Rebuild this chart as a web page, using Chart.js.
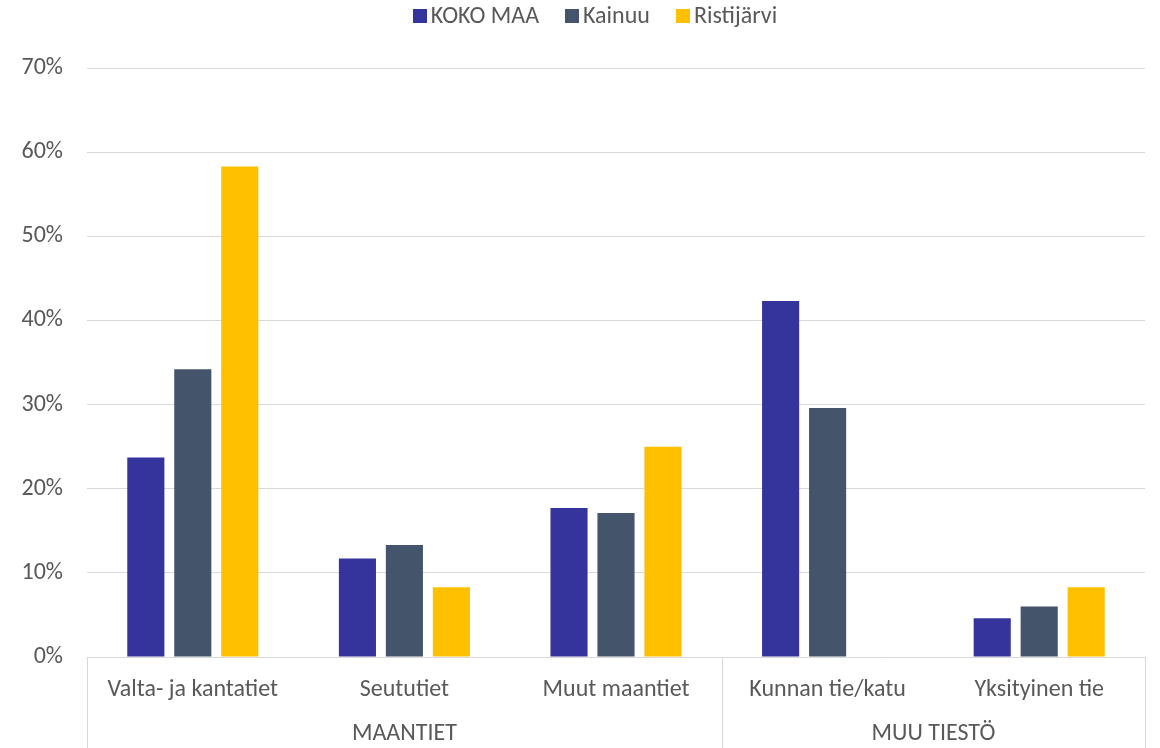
<!DOCTYPE html>
<html>
<head>
<meta charset="utf-8">
<script src="https://cdn.jsdelivr.net/npm/chart.js@4"></script>
<style>
html,body{margin:0;padding:0;background:#fff;}
#wrap{width:1160px;height:748px;position:relative;}
</style>
</head>
<body>
<div id="wrap"><canvas id="c" width="1160" height="748"></canvas></div>
<script>
const categories = ["Valta- ja kantatiet", "Seututiet", "Muut maantiet", "Kunnan tie/katu", "Yksityinen tie"];
const groupNames = ["MAANTIET", "MUU TIESTÖ"];
const groupSizes = [3, 2];
const seriesNames = ["KOKO MAA", "Kainuu", "Ristijärvi"];
const kokoMaa = [23.7, 11.7, 17.7, 42.3, 4.6];
const kainuu = [34.2, 13.3, 17.1, 29.6, 6.0];
const ristijarvi = [58.3, 8.3, 25.0, 0, 8.3];
const yTicks = [0, 10, 20, 30, 40, 50, 60, 70];
const seriesColors = ['#34349c', '#44546a', '#ffc000'];

const TXT = '#595959';
const FONT = 'Carlito, Lato, sans-serif';
const FS = 24;
const LINE = '#d9d9d9';

// custom legend drawn from dataset labels/colours
const legendPlugin = {
  id: 'customLegend',
  afterDraw(chart) {
    const ctx = chart.ctx;
    ctx.save();
    ctx.font = FS + 'px ' + FONT;
    ctx.textBaseline = 'middle';
    ctx.textAlign = 'left';
    const box = 14, gapText = 4, gapItem = 26;
    const ds = chart.data.datasets;
    const widths = ds.map(d => ctx.measureText(d.label).width);
    const total = widths.reduce((a, w) => a + box + gapText + w, 0) + gapItem * (ds.length - 1);
    const center = chart.width / 2 + 15;
    let x = center - total / 2;
    const cy = 16;
    ds.forEach((d, i) => {
      ctx.fillStyle = d.backgroundColor;
      ctx.fillRect(Math.round(x), cy - box / 2, box, box);
      ctx.fillStyle = TXT;
      ctx.fillText(d.label, x + box + gapText, cy + 1);
      x += box + gapText + widths[i] + gapItem;
    });
    ctx.restore();
  }
};

const groupPlugin = {
  id: 'groups',
  afterDraw(chart) {
    const ctx = chart.ctx;
    const x = chart.scales.x;
    const area = chart.chartArea;
    const bottom = chart.height;
    const half = (x.getPixelForValue(1) - x.getPixelForValue(0)) / 2;
    ctx.save();
    ctx.strokeStyle = LINE;
    ctx.lineWidth = 1;
    let idx = 0;
    const bounds = [x.getPixelForValue(0) - half];
    groupSizes.forEach(n => { idx += n; bounds.push(x.getPixelForValue(idx - 1) + half); });
    bounds.forEach(b => {
      const px = Math.round(b) + 0.5;
      ctx.beginPath(); ctx.moveTo(px, area.bottom); ctx.lineTo(px, bottom); ctx.stroke();
    });
    ctx.fillStyle = TXT;
    ctx.font = FS + 'px ' + FONT;
    ctx.textAlign = 'center';
    ctx.textBaseline = 'middle';
    idx = 0;
    groupNames.forEach((g, i) => {
      const c = (x.getPixelForValue(idx) + x.getPixelForValue(idx + groupSizes[i] - 1)) / 2;
      ctx.fillText(g, c, area.bottom + 77);
      idx += groupSizes[i];
    });
    ctx.restore();
  }
};

new Chart(document.getElementById('c'), {
  type: 'bar',
  data: {
    labels: categories,
    datasets: [
      { label: seriesNames[0], data: kokoMaa, backgroundColor: seriesColors[0] },
      { label: seriesNames[1], data: kainuu, backgroundColor: seriesColors[1] },
      { label: seriesNames[2], data: ristijarvi, backgroundColor: seriesColors[2] }
    ]
  },
  options: {
    responsive: false,
    animation: false,
    devicePixelRatio: 1,
    layout: { padding: { top: 68, left: 0, right: 15, bottom: 0 } },
    datasets: { bar: { categoryPercentage: 0.666, barPercentage: 0.79 } },
    plugins: {
      tooltip: { enabled: false },
      legend: { display: false }
    },
    scales: {
      x: {
        grid: { display: false, drawTicks: false },
        border: { display: false },
        ticks: { color: TXT, font: { family: FONT, size: FS }, padding: 19, maxRotation: 0 },
        afterFit(s) { s.height = 91; }
      },
      y: {
        min: 0, max: 70,
        afterBuildTicks(s) { s.ticks = yTicks.map(v => ({ value: v })); },
        grid: { color: LINE, drawTicks: false, lineWidth: 1 },
        border: { display: false },
        ticks: { color: TXT, font: { family: FONT, size: FS }, padding: 24, callback: v => v + '%' },
        afterFit(s) { s.width = 87; }
      }
    }
  },
  plugins: [legendPlugin, groupPlugin]
});
</script>
</body>
</html>
